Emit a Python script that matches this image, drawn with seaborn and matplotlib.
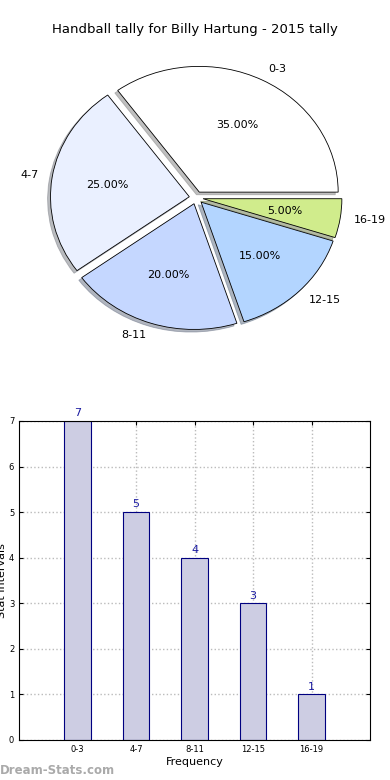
import matplotlib
matplotlib.use("Agg")
import matplotlib.pyplot as plt
import seaborn as sns

# data
intervals = ["0-3", "4-7", "8-11", "12-15", "16-19"]
counts = [7, 5, 4, 3, 1]
pie_colors = ["#ffffff", "#eaf0ff", "#c5d7ff", "#b3d5ff", "#d0ec8c"]
title = "Handball tally for Billy Hartung - 2015 tally"

sns.set_style("white")
plt.rcParams['font.family'] = ['DejaVu Sans']
plt.rcParams['text.color'] = 'black'
plt.rcParams['axes.labelcolor'] = 'black'
plt.rcParams['xtick.color'] = 'black'
plt.rcParams['ytick.color'] = 'black'

fig = plt.figure(figsize=(3.9, 7.8), dpi=100)

# --- pie ---
ax_pie = fig.add_axes([0.058, 0.545, 0.89, 0.403])
wedges, texts, autotexts = ax_pie.pie(
    counts, labels=intervals, colors=pie_colors, autopct="%.2f%%",
    explode=[0.05] * len(counts),
    shadow={"ox": -0.015, "oy": -0.015, "shade": 0.5}, startangle=0,
    wedgeprops=dict(edgecolor="black", linewidth=0.6),
    textprops=dict(fontsize=8, color="black"))
ax_pie.set_aspect("auto")
ax_pie.set_xlim(-1.25, 1.25)
ax_pie.set_ylim(-1.25, 1.25)
fig.text(0.5, 1 - 30 / 780, title, ha="center", va="center", fontsize=9.5)

# --- bars ---
ax = fig.add_axes([0.049, 0.0513, 0.9, 0.409])
sns.barplot(x=intervals, y=counts, ax=ax, width=0.45, color="#cdcde3",
            edgecolor="navy", linewidth=0.8, saturation=1, zorder=2)
for i, v in enumerate(counts):
    ax.text(i, v + 0.06, str(v), ha="center", va="bottom", fontsize=8,
            color="#1a1aa0")
ax.set_xlim(-1, 5)
ax.set_ylim(0, 7)
ax.set_yticks(range(8))
ax.grid(True, linestyle=":", color="#bbbbbb", linewidth=1, zorder=0)
ax.set_axisbelow(True)
ax.tick_params(axis="both", labelsize=6, direction="in", length=3,
               left=True, right=True, bottom=True, top=True)
for s in ax.spines.values():
    s.set_color("black")
    s.set_linewidth(0.8)
ax.set_xlabel("Frequency", fontsize=8, labelpad=2)
ax.set_ylabel("Stat Intervals", fontsize=8, labelpad=1)

fig.text(0.0, 1 - 770 / 780, "Dream-Stats.com", ha="left", va="center",
         fontsize=8.5, color="#aaaaaa", fontweight="bold")

fig.savefig("out.png", dpi=100)
